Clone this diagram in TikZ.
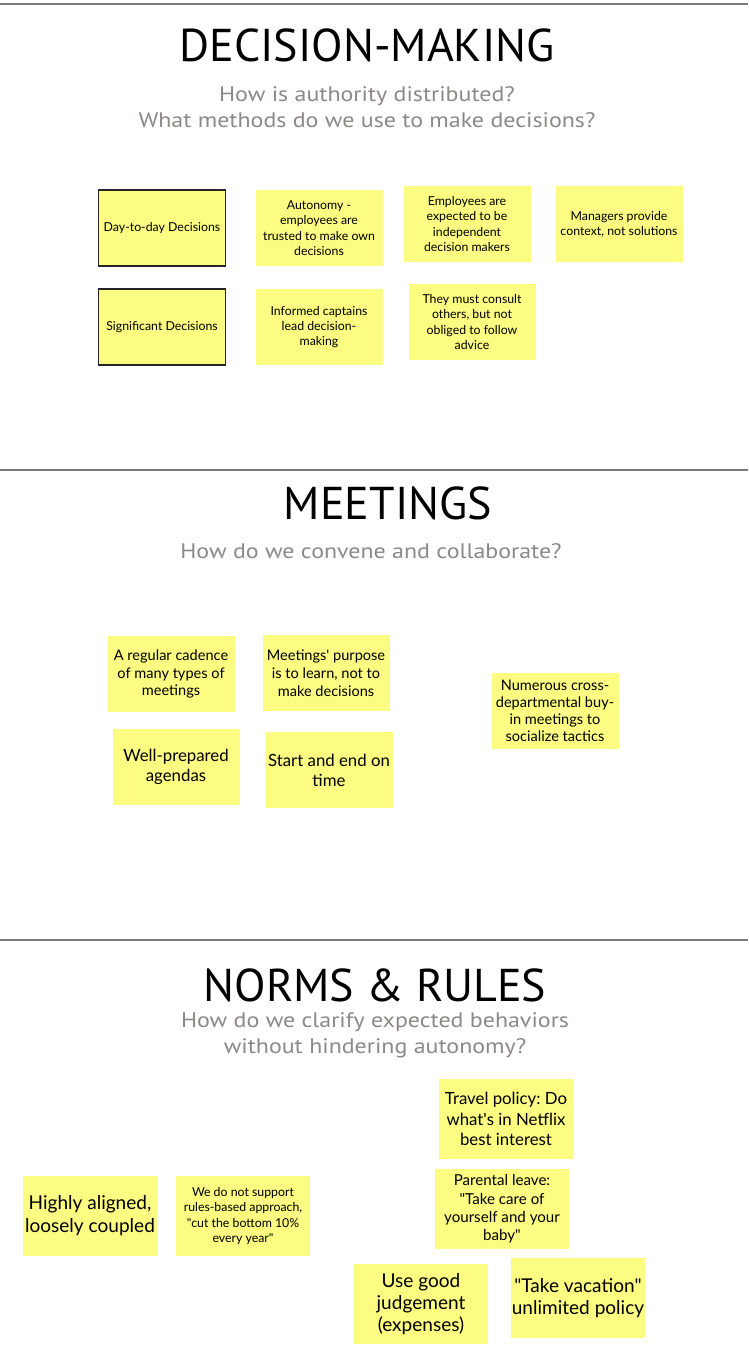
\documentclass[tikz,border=0pt]{standalone}
\usepackage{fontspec}
\setmainfont{Lato}[Scale=1.12]
\newfontfamily\headfont{PT Sans}
\newfontfamily\subfont[FakeStretch=1.14]{PT Sans}
\newcommand{\qt}{\textquotedbl}
\newcommand{\ap}{\textquotesingle}
\frenchspacing
\definecolor{notefill}{HTML}{FCFC82}
\definecolor{subgray}{HTML}{8C8888}
\definecolor{rulegray}{HTML}{7A7A7A}
\tikzset{
  note/.style={fill=notefill, minimum width=127pt, minimum height=76pt, inner sep=0pt, align=center},
  bignote/.style={note, minimum width=134pt, minimum height=80pt},
  framed/.style={note, draw=black!85, line width=1.4pt},
  title/.style={font=\headfont\fontsize{46}{50}\selectfont},
  subtitle/.style={text=subgray, align=center, font=\subfont\fontsize{21}{26}\selectfont},
  rule/.style={draw=rulegray, line width=1.2pt}
}
\begin{document}
\begin{tikzpicture}[x=1pt,y=-1pt]
\useasboundingbox (0,0) rectangle (748,1370);
\fill[white] (0,0) rectangle (748,1370);

\draw[rule] (0,4) -- (748,4);
\draw[rule] (0,470) -- (748,470);
\draw[rule] (0,940) -- (748,940);

\node[title] (dmTitle) at (367,45) {DECISION-MAKING};
\node[subtitle] (dmSub) at (367,107) {How is authority distributed?\\What methods do we use to make decisions?};

\node[framed, font=\fontsize{11}{15}\selectfont] (dayToDay) at (162,228) {Day-to-day Decisions};
\node[framed, font=\fontsize{11}{15}\selectfont] (significant) at (162,327) {Significant Decisions};
\node[note, font=\fontsize{11}{15.3}\selectfont] (autonomy) at (319,228) {Autonomy -\\employees are\\trusted to make own\\decisions};
\node[note, font=\fontsize{11}{15.3}\selectfont] (employees) at (467,224) {Employees are\\expected to be\\independent\\decision makers};
\node[note, font=\fontsize{11}{15.3}\selectfont] (managers) at (619,224) {Managers provide\\context, not solutions};
\node[note, font=\fontsize{11}{15.3}\selectfont] (captains) at (319,327) {Informed captains\\lead decision-\\making};
\node[note, font=\fontsize{11}{15.3}\selectfont] (consult) at (472,322) {They must consult\\others, but not\\obliged to follow\\advice};

\node[title] (mtTitle) at (388,503) {MEETINGS};
\node[subtitle] (mtSub) at (371,551) {How do we convene and collaborate?};

\node[note, font=\fontsize{13}{17.8}\selectfont] (cadence) at (171,674) {A regular cadence\\of many types of\\meetings};
\node[note, font=\fontsize{13}{17.8}\selectfont] (purpose) at (326,673) {Meetings\ap\ purpose\\is to learn, not to\\make decisions};
\node[note, font=\fontsize{13}{16.8}\selectfont] (crossDept) at (555,711) {Numerous cross-\\departmental buy-\\in meetings to\\socialize tactics};
\node[note, font=\fontsize{15}{20}\selectfont] (agendas) at (176,767) {Well-prepared\\agendas};
\node[note, font=\fontsize{15}{20}\selectfont] (onTime) at (329,770) {Start and end on\\time};

\node[title] (nrTitle) at (375,985) {NORMS \& RULES};
\node[subtitle] (nrSub) at (375,1035) {How do we clarify expected behaviors\\without hindering autonomy?};

\node[bignote, font=\fontsize{17}{23}\selectfont] (aligned) at (90,1216) {Highly aligned,\\loosely coupled};
\node[bignote, font=\fontsize{11}{15.3}\selectfont] (noRules) at (243,1216) {We do not support\\rules-based approach,\\\qt cut the bottom 10\%\\every year\qt};
\node[bignote, font=\fontsize{15}{20.5}\selectfont] (travel) at (506,1119) {Travel policy: Do\\what\ap s in Netflix\\best interest};
\node[bignote, font=\fontsize{13.5}{18.3}\selectfont] (parental) at (502,1209) {Parental leave:\\\qt Take care of\\yourself and your\\baby\qt};
\node[bignote, font=\fontsize{17}{22}\selectfont] (judgement) at (421,1304) {Use good\\judgement\\(expenses)};
\node[bignote, font=\fontsize{17}{22}\selectfont] (vacation) at (578,1298) {\qt Take vacation\qt\\unlimited policy};
\end{tikzpicture}
\end{document}
